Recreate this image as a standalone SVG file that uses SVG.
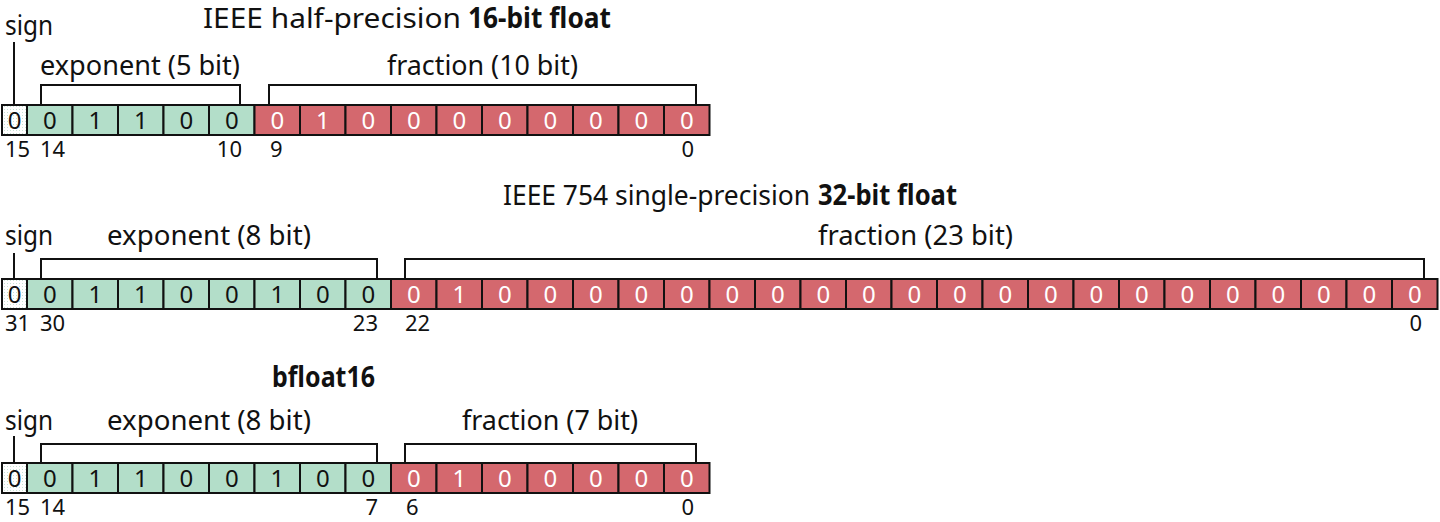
<svg xmlns="http://www.w3.org/2000/svg" width="1440" height="522" viewBox="0 0 1440 522">
<defs>
<pattern id="dots" width="3" height="3" patternUnits="userSpaceOnUse">
<rect width="3" height="3" fill="#ffffff"/>
<rect x="1" y="1" width="1" height="1" fill="#c6e2d3"/>
</pattern>
</defs>
<style>
text{font-family:"Noto Sans","Lato","Liberation Sans",sans-serif;fill:#111}
.lbl{font-size:27px}
.ttl{font-size:28px}
.b{font-weight:bold}
.idx{font-size:22px}
.dg{font-size:24px;text-anchor:middle}
.dw{fill:#fff}
.s{fill:url(#dots);stroke:#111;stroke-width:2}
.e{fill:#b3dec9;stroke:#111;stroke-width:2}
.f{fill:#d4686e;stroke:#111;stroke-width:2}
.br{fill:none;stroke:#111;stroke-width:2}
</style>

<g id="titles">
<text class="ttl" x="203" y="28" textLength="258" lengthAdjust="spacingAndGlyphs">IEEE half-precision</text>
<text class="ttl b" x="468" y="28" textLength="143" lengthAdjust="spacingAndGlyphs">16-bit float</text>
<text class="ttl" x="503" y="205" textLength="307" lengthAdjust="spacingAndGlyphs">IEEE 754 single-precision</text>
<text class="ttl b" x="818" y="205" textLength="139" lengthAdjust="spacingAndGlyphs">32-bit float</text>
<text class="ttl b" x="272" y="387" textLength="103" lengthAdjust="spacingAndGlyphs">bfloat16</text>
</g>

<g id="connectors">
<path class="br" d="M14,42V105M41,105V85H240V105M269,105V85H696V105"/>
<path class="br" d="M14,253V279M41,279V259H377V279M405,279V259H1424V279"/>
<path class="br" d="M14,436V463M41,463V444H377V463M405,463V444H696V463"/>
</g>

<g id="half">
<text class="lbl" x="5" y="35" textLength="48" lengthAdjust="spacingAndGlyphs">sign</text>
<text class="lbl" x="40" y="75" textLength="200" lengthAdjust="spacingAndGlyphs">exponent (5 bit)</text>
<text class="lbl" x="387" y="75" textLength="191" lengthAdjust="spacingAndGlyphs">fraction (10 bit)</text>
<rect class="s" x="2" y="105" width="25" height="30"/>
<rect class="e" x="27" y="105" width="45.5" height="30"/>
<rect class="e" x="72.5" y="105" width="45.5" height="30"/>
<rect class="e" x="118" y="105" width="45.5" height="30"/>
<rect class="e" x="163.5" y="105" width="45.5" height="30"/>
<rect class="e" x="209" y="105" width="45.5" height="30"/>
<rect class="f" x="254.5" y="105" width="45.5" height="30"/>
<rect class="f" x="300" y="105" width="45.5" height="30"/>
<rect class="f" x="345.5" y="105" width="45.5" height="30"/>
<rect class="f" x="391" y="105" width="45.5" height="30"/>
<rect class="f" x="436.5" y="105" width="45.5" height="30"/>
<rect class="f" x="482" y="105" width="45.5" height="30"/>
<rect class="f" x="527.5" y="105" width="45.5" height="30"/>
<rect class="f" x="573" y="105" width="45.5" height="30"/>
<rect class="f" x="618.5" y="105" width="45.5" height="30"/>
<rect class="f" x="664" y="105" width="45.5" height="30"/>
<text class="dg" x="14.5" y="129">0</text>
<text class="dg" x="49.75" y="129">0</text>
<text class="dg" x="95.25" y="129">1</text>
<text class="dg" x="140.75" y="129">1</text>
<text class="dg" x="186.25" y="129">0</text>
<text class="dg" x="231.75" y="129">0</text>
<text class="dg dw" x="277.25" y="129">0</text>
<text class="dg dw" x="322.75" y="129">1</text>
<text class="dg dw" x="368.25" y="129">0</text>
<text class="dg dw" x="413.75" y="129">0</text>
<text class="dg dw" x="459.25" y="129">0</text>
<text class="dg dw" x="504.75" y="129">0</text>
<text class="dg dw" x="550.25" y="129">0</text>
<text class="dg dw" x="595.75" y="129">0</text>
<text class="dg dw" x="641.25" y="129">0</text>
<text class="dg dw" x="686.75" y="129">0</text>
<text class="idx" x="5" y="157">15</text>
<text class="idx" x="40" y="157">14</text>
<text class="idx" x="242" y="157" text-anchor="end">10</text>
<text class="idx" x="270" y="157">9</text>
<text class="idx" x="694" y="157" text-anchor="end">0</text>
</g>

<g id="single">
<text class="lbl" x="5" y="245" textLength="48" lengthAdjust="spacingAndGlyphs">sign</text>
<text class="lbl" x="107" y="245" textLength="204" lengthAdjust="spacingAndGlyphs">exponent (8 bit)</text>
<text class="lbl" x="818" y="245" textLength="195" lengthAdjust="spacingAndGlyphs">fraction (23 bit)</text>
<rect class="s" x="2" y="279" width="25" height="30"/>
<rect class="e" x="27" y="279" width="45.5" height="30"/>
<rect class="e" x="72.5" y="279" width="45.5" height="30"/>
<rect class="e" x="118" y="279" width="45.5" height="30"/>
<rect class="e" x="163.5" y="279" width="45.5" height="30"/>
<rect class="e" x="209" y="279" width="45.5" height="30"/>
<rect class="e" x="254.5" y="279" width="45.5" height="30"/>
<rect class="e" x="300" y="279" width="45.5" height="30"/>
<rect class="e" x="345.5" y="279" width="45.5" height="30"/>
<rect class="f" x="391" y="279" width="45.5" height="30"/>
<rect class="f" x="436.5" y="279" width="45.5" height="30"/>
<rect class="f" x="482" y="279" width="45.5" height="30"/>
<rect class="f" x="527.5" y="279" width="45.5" height="30"/>
<rect class="f" x="573" y="279" width="45.5" height="30"/>
<rect class="f" x="618.5" y="279" width="45.5" height="30"/>
<rect class="f" x="664" y="279" width="45.5" height="30"/>
<rect class="f" x="709.5" y="279" width="45.5" height="30"/>
<rect class="f" x="755" y="279" width="45.5" height="30"/>
<rect class="f" x="800.5" y="279" width="45.5" height="30"/>
<rect class="f" x="846" y="279" width="45.5" height="30"/>
<rect class="f" x="891.5" y="279" width="45.5" height="30"/>
<rect class="f" x="937" y="279" width="45.5" height="30"/>
<rect class="f" x="982.5" y="279" width="45.5" height="30"/>
<rect class="f" x="1028" y="279" width="45.5" height="30"/>
<rect class="f" x="1073.5" y="279" width="45.5" height="30"/>
<rect class="f" x="1119" y="279" width="45.5" height="30"/>
<rect class="f" x="1164.5" y="279" width="45.5" height="30"/>
<rect class="f" x="1210" y="279" width="45.5" height="30"/>
<rect class="f" x="1255.5" y="279" width="45.5" height="30"/>
<rect class="f" x="1301" y="279" width="45.5" height="30"/>
<rect class="f" x="1346.5" y="279" width="45.5" height="30"/>
<rect class="f" x="1392" y="279" width="45.5" height="30"/>
<text class="dg" x="14.5" y="303">0</text>
<text class="dg" x="49.75" y="303">0</text>
<text class="dg" x="95.25" y="303">1</text>
<text class="dg" x="140.75" y="303">1</text>
<text class="dg" x="186.25" y="303">0</text>
<text class="dg" x="231.75" y="303">0</text>
<text class="dg" x="277.25" y="303">1</text>
<text class="dg" x="322.75" y="303">0</text>
<text class="dg" x="368.25" y="303">0</text>
<text class="dg dw" x="413.75" y="303">0</text>
<text class="dg dw" x="459.25" y="303">1</text>
<text class="dg dw" x="504.75" y="303">0</text>
<text class="dg dw" x="550.25" y="303">0</text>
<text class="dg dw" x="595.75" y="303">0</text>
<text class="dg dw" x="641.25" y="303">0</text>
<text class="dg dw" x="686.75" y="303">0</text>
<text class="dg dw" x="732.25" y="303">0</text>
<text class="dg dw" x="777.75" y="303">0</text>
<text class="dg dw" x="823.25" y="303">0</text>
<text class="dg dw" x="868.75" y="303">0</text>
<text class="dg dw" x="914.25" y="303">0</text>
<text class="dg dw" x="959.75" y="303">0</text>
<text class="dg dw" x="1005.25" y="303">0</text>
<text class="dg dw" x="1050.75" y="303">0</text>
<text class="dg dw" x="1096.25" y="303">0</text>
<text class="dg dw" x="1141.75" y="303">0</text>
<text class="dg dw" x="1187.25" y="303">0</text>
<text class="dg dw" x="1232.75" y="303">0</text>
<text class="dg dw" x="1278.25" y="303">0</text>
<text class="dg dw" x="1323.75" y="303">0</text>
<text class="dg dw" x="1369.25" y="303">0</text>
<text class="dg dw" x="1414.75" y="303">0</text>
<text class="idx" x="5" y="331">31</text>
<text class="idx" x="40" y="331">30</text>
<text class="idx" x="378" y="331" text-anchor="end">23</text>
<text class="idx" x="405" y="331">22</text>
<text class="idx" x="1422" y="331" text-anchor="end">0</text>
</g>

<g id="bfloat16">
<text class="lbl" x="5" y="430" textLength="48" lengthAdjust="spacingAndGlyphs">sign</text>
<text class="lbl" x="107" y="430" textLength="204" lengthAdjust="spacingAndGlyphs">exponent (8 bit)</text>
<text class="lbl" x="462" y="430" textLength="176" lengthAdjust="spacingAndGlyphs">fraction (7 bit)</text>
<rect class="s" x="2" y="463" width="25" height="30"/>
<rect class="e" x="27" y="463" width="45.5" height="30"/>
<rect class="e" x="72.5" y="463" width="45.5" height="30"/>
<rect class="e" x="118" y="463" width="45.5" height="30"/>
<rect class="e" x="163.5" y="463" width="45.5" height="30"/>
<rect class="e" x="209" y="463" width="45.5" height="30"/>
<rect class="e" x="254.5" y="463" width="45.5" height="30"/>
<rect class="e" x="300" y="463" width="45.5" height="30"/>
<rect class="e" x="345.5" y="463" width="45.5" height="30"/>
<rect class="f" x="391" y="463" width="45.5" height="30"/>
<rect class="f" x="436.5" y="463" width="45.5" height="30"/>
<rect class="f" x="482" y="463" width="45.5" height="30"/>
<rect class="f" x="527.5" y="463" width="45.5" height="30"/>
<rect class="f" x="573" y="463" width="45.5" height="30"/>
<rect class="f" x="618.5" y="463" width="45.5" height="30"/>
<rect class="f" x="664" y="463" width="45.5" height="30"/>
<text class="dg" x="14.5" y="487">0</text>
<text class="dg" x="49.75" y="487">0</text>
<text class="dg" x="95.25" y="487">1</text>
<text class="dg" x="140.75" y="487">1</text>
<text class="dg" x="186.25" y="487">0</text>
<text class="dg" x="231.75" y="487">0</text>
<text class="dg" x="277.25" y="487">1</text>
<text class="dg" x="322.75" y="487">0</text>
<text class="dg" x="368.25" y="487">0</text>
<text class="dg dw" x="413.75" y="487">0</text>
<text class="dg dw" x="459.25" y="487">1</text>
<text class="dg dw" x="504.75" y="487">0</text>
<text class="dg dw" x="550.25" y="487">0</text>
<text class="dg dw" x="595.75" y="487">0</text>
<text class="dg dw" x="641.25" y="487">0</text>
<text class="dg dw" x="686.75" y="487">0</text>
<text class="idx" x="5" y="515">15</text>
<text class="idx" x="40" y="515">14</text>
<text class="idx" x="378" y="515" text-anchor="end">7</text>
<text class="idx" x="406" y="515">6</text>
<text class="idx" x="694" y="515" text-anchor="end">0</text>
</g>
</svg>
